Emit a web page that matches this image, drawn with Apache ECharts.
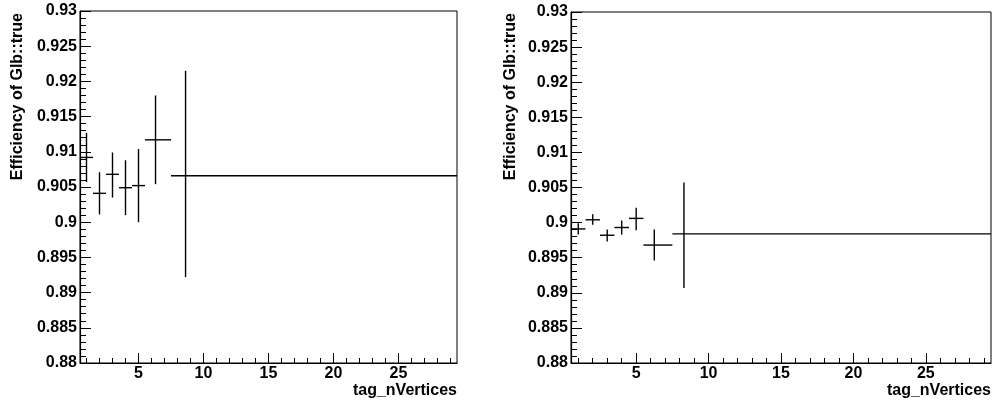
<!DOCTYPE html>
<html>
<head>
<meta charset="utf-8">
<script src="https://cdn.jsdelivr.net/npm/echarts@6/dist/echarts.min.js"></script>
<style>
html,body{margin:0;padding:0;background:#fff;}
#chart{width:994px;height:408px;}
</style>
</head>
<body>
<div id="chart"></div>
<script>
// ---- data ----
const binLow  = [0.5, 1.5, 2.5, 3.5, 4.5, 5.5, 7.5];
const binHigh = [1.5, 2.5, 3.5, 4.5, 5.5, 7.5, 29.5];

const xLeft     = [1, 2, 3, 4, 5, 6.31, 8.62];
const effLeft   = [0.9092, 0.9041, 0.9068, 0.9049, 0.9052, 0.9117, 0.9066];
const errLoLeft = [0.9057, 0.9011, 0.9035, 0.9010, 0.9000, 0.9054, 0.8922];
const errHiLeft = [0.9127, 0.9071, 0.9099, 0.9088, 0.9104, 0.9180, 0.9215];

const xRight     = [1, 2, 3, 4, 5, 6.25, 8.3];
const effRight   = [0.8991, 0.9004, 0.8982, 0.8993, 0.9006, 0.8968, 0.8984];
const errLoRight = [0.8983, 0.8997, 0.8973, 0.8983, 0.8989, 0.8946, 0.8907];
const errHiRight = [0.8999, 0.9012, 0.8990, 0.9003, 0.9021, 0.8990, 0.9057];

const xMajorTicks = [5, 10, 15, 20, 25];
const xMinorTicks = [1,2,3,4,6,7,8,9,11,12,13,14,16,17,18,19,21,22,23,24,26,27,28,29];
const xRange = [0.5, 29.5];
const yRange = [0.88, 0.93];
const yStep = 0.005;
const xTitle = 'tag_nVertices';
const yTitle = 'Efficiency of Glb::true';

// ---- chart ----
const FONT = 'Liberation Sans';
function buildData(xs, ys, lo, hi) {
  return xs.map((x, i) => [x, ys[i], binLow[i], binHigh[i], lo[i], hi[i]]);
}
function renderErr(params, api) {
  const x = api.value(0), y = api.value(1);
  const xl = api.value(2), xh = api.value(3), yl = api.value(4), yh = api.value(5);
  const a = api.coord([xl, y]), b = api.coord([xh, y]);
  const c = api.coord([x, yl]), d = api.coord([x, yh]);
  const st = {stroke: '#000', lineWidth: 1.4};
  return {type: 'group', children: [
    {type: 'line', shape: {x1: a[0], y1: a[1], x2: b[0], y2: b[1]}, style: st},
    {type: 'line', shape: {x1: d[0], y1: d[1], x2: c[0], y2: c[1]}, style: st}
  ]};
}
const grids = [
  {left: 80, right: 537, top: 11, bottom: 45, show: true, borderColor: '#000', borderWidth: 1},
  {left: 571, right: 3, top: 12, bottom: 45, show: true, borderColor: '#000', borderWidth: 1}
];
const xAxes = [], yAxes = [];
[0, 1].forEach(g => {
  xAxes.push({
    type: 'value', gridIndex: g, min: xRange[0], max: xRange[1],
    axisLine: {show: true, lineStyle: {color: '#000', width: 1.2}},
    axisTick: {show: true, inside: true, length: 10, customValues: xMajorTicks, lineStyle: {color: '#000', width: 1}},
    axisLabel: {show: true, customValues: xMajorTicks, margin: 3, color: '#000', fontFamily: FONT, fontWeight: 'bold', fontSize: 16},
    splitLine: {show: false}
  });
  xAxes.push({
    type: 'value', gridIndex: g, min: xRange[0], max: xRange[1], position: 'bottom',
    axisLine: {show: false},
    axisTick: {show: true, inside: true, length: 5, customValues: xMinorTicks, lineStyle: {color: '#000', width: 1}},
    axisLabel: {show: false},
    splitLine: {show: false}
  });
  yAxes.push({
    type: 'value', gridIndex: g, min: yRange[0], max: yRange[1], interval: yStep,
    axisLine: {show: true, lineStyle: {color: '#000', width: 1.2}},
    axisTick: {show: true, inside: true, length: 11, lineStyle: {color: '#000', width: 1}},
    minorTick: {show: true, splitNumber: 5, length: 6, lineStyle: {color: '#000', width: 1}},
    axisLabel: {margin: 3, color: '#000', fontFamily: FONT, fontWeight: 'bold', fontSize: 16,
      formatter: v => String(parseFloat(v.toFixed(4)))},
    splitLine: {show: false}
  });
});
const chart = echarts.init(document.getElementById('chart'), null, {renderer: 'canvas'});
chart.setOption({
  animation: false,
  backgroundColor: '#fff',
  grid: grids,
  xAxis: xAxes,
  yAxis: yAxes,
  series: [
    {type: 'custom', xAxisIndex: 0, yAxisIndex: 0, renderItem: renderErr, data: buildData(xLeft, effLeft, errLoLeft, errHiLeft), clip: true},
    {type: 'custom', xAxisIndex: 2, yAxisIndex: 1, renderItem: renderErr, data: buildData(xRight, effRight, errLoRight, errHiRight), clip: true}
  ],
  graphic: [
    {type: 'text', x: 17.5, y: 13, rotation: Math.PI / 2, style: {text: yTitle, align: 'right', verticalAlign: 'middle', fill: '#000', font: 'bold 16px "Liberation Sans"'}},
    {type: 'text', x: 511, y: 13, rotation: Math.PI / 2, style: {text: yTitle, align: 'right', verticalAlign: 'middle', fill: '#000', font: 'bold 16px "Liberation Sans"'}},
    {type: 'text', x: 457, y: 391, style: {text: xTitle, align: 'right', verticalAlign: 'middle', fill: '#000', font: 'bold 16px "Liberation Sans"'}},
    {type: 'text', x: 991, y: 391, style: {text: xTitle, align: 'right', verticalAlign: 'middle', fill: '#000', font: 'bold 16px "Liberation Sans"'}}
  ]
});
</script>
</body>
</html>
